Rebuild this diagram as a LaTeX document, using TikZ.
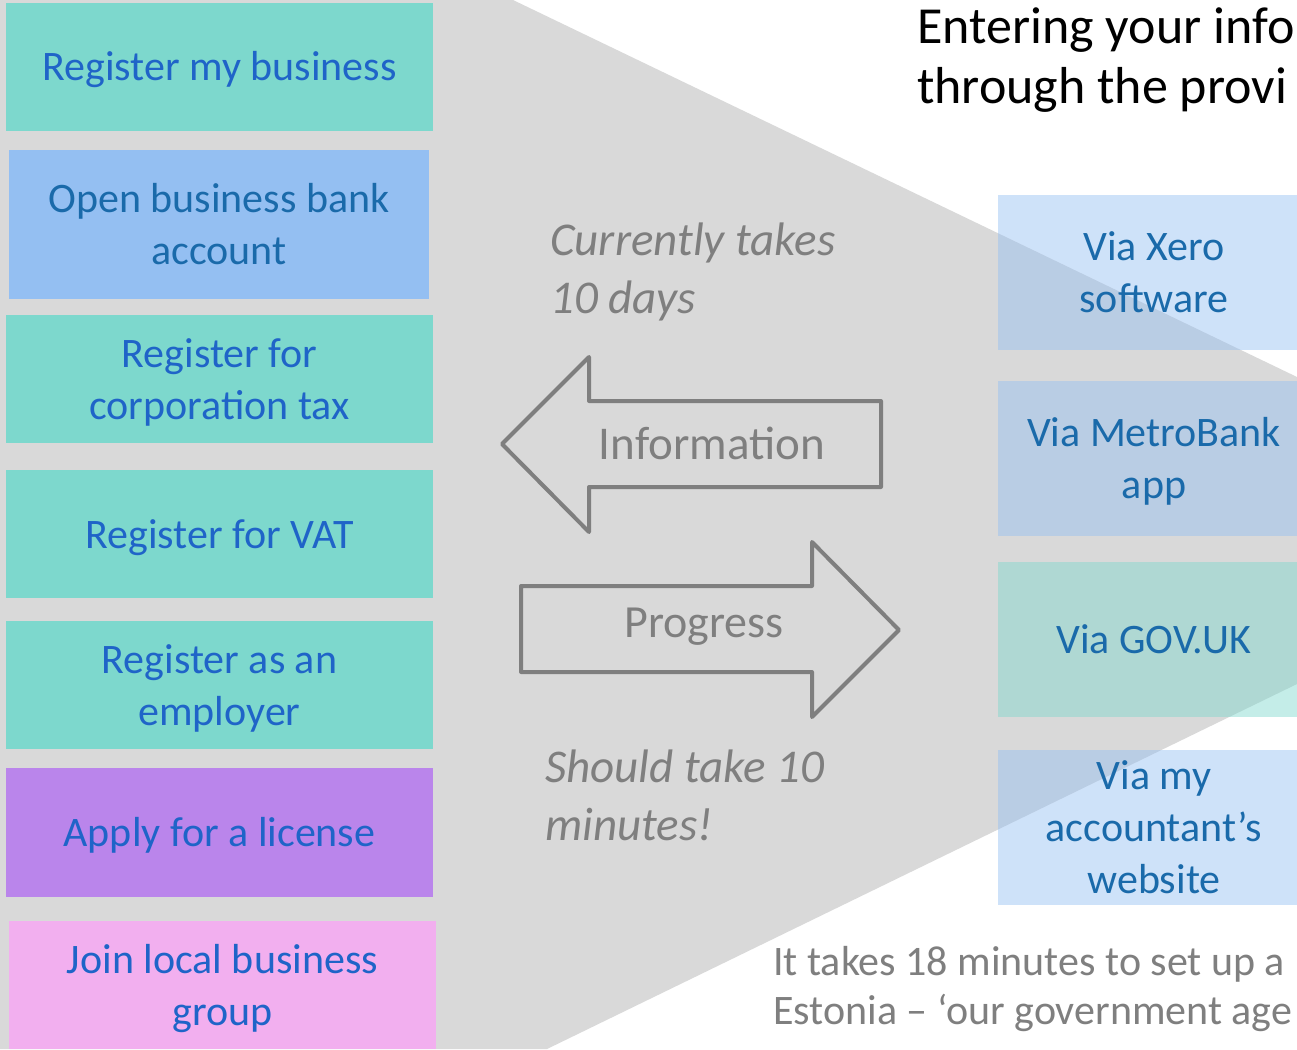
\documentclass[tikz,border=0pt]{standalone}
\usepackage{fontspec}
\setmainfont{Carlito}
\definecolor{greybg}{HTML}{D9D9D9}
\definecolor{tealbox}{HTML}{7DD8CD}
\definecolor{bluebox}{HTML}{94BFF2}
\definecolor{purplebox}{HTML}{BA85EB}
\definecolor{pinkbox}{HTML}{F2AFEF}
\definecolor{boxtext}{HTML}{1F64C8}
\definecolor{viatext}{HTML}{1A6AAA}
\definecolor{greytext}{HTML}{7F7F7F}
\newcommand{\boxtop}{\rule{0pt}{38pt}}

\begin{document}
\begin{tikzpicture}[x=1pt,y=-1pt]
  \tikzstyle{boxlines}=[execute at end node={\rule[-10pt]{0pt}{10pt}}]
  \tikzstyle{stepbox}=[rectangle,inner sep=0pt,minimum width=427,minimum height=128,align=center,text=boxtext,font=\fontsize{42}{52}\selectfont,boxlines]
  \tikzstyle{viabox}=[rectangle,inner sep=0pt,minimum width=312,minimum height=155,align=center,fill opacity=0.45,text opacity=1,text=viatext,font=\fontsize{42}{52}\selectfont,boxlines]
  \tikzstyle{note}=[inner sep=0pt,anchor=base west,align=left,text=greytext]
  \tikzstyle{arrowline}=[draw=greytext,line width=4pt,line join=round]

  \useasboundingbox (0,0) rectangle (1297,1049);
  \clip (0,0) rectangle (1297,1049);
  \fill[white] (0,0) rectangle (1297,1049);

  % funnel
  \fill[greybg] (0,0) -- (513,0) -- (1297,377) -- (1297,684) -- (547,1049) -- (0,1049) -- cycle;

  % steps
  \node[stepbox,fill=tealbox] (S_1) at (219.5,67) {\boxtop Register my business};
  \node[stepbox,fill=bluebox,minimum width=420,minimum height=149,text=viatext] (S_2) at (219,224.5) {\boxtop Open business bank\\account};
  \node[stepbox,fill=tealbox] (S_3) at (219.5,379) {\boxtop Register for\\corporation tax};
  \node[stepbox,fill=tealbox] (S_4) at (219.5,534) {\boxtop Register for VAT};
  \node[stepbox,fill=tealbox] (S_5) at (219.5,685) {\boxtop Register as an\\employer};
  \node[stepbox,fill=purplebox,minimum height=129] (S_6) at (219.5,832.5) {\boxtop Apply for a license};
  \node[stepbox,fill=pinkbox] (S_7) at (222.5,985) {\boxtop Join local business\\group};

  % arrows
  \draw[arrowline] (502,444) -- (589,357) -- (589,401) -- (881,401) -- (881,487) -- (589,487) -- (589,532) -- cycle;
  \draw[arrowline] (521,586) -- (812,586) -- (812,542) -- (899,630) -- (812,717) -- (812,672) -- (521,672) -- cycle;
  \node[text=greytext,font=\fontsize{47}{56}\selectfont,anchor=base,inner sep=0pt] (info) at (712,459) {Information};
  \node[text=greytext,font=\fontsize{46}{56}\selectfont,anchor=base,inner sep=0pt] (progress) at (704,637) {Progress};

  % via
  \node[viabox,fill=bluebox] (V_1) at (1154,272) {\boxtop Via Xero\\software};
  \node[viabox,fill=bluebox] (V_2) at (1154,458.5) {\boxtop Via MetroBank\\app};
  \node[viabox,fill=tealbox] (V_3) at (1154,639.5) {\boxtop Via GOV.UK};
  \node[viabox,fill=bluebox] (V_4) at (1154,827) {\boxtop Via my\\accountant’s\\website};

  % texts (base = last line)
  \node[note,text=black,font=\fontsize{52}{60}\selectfont] (title) at (917,103) {Entering your info\\through the provi};
  \node[note,font=\itshape\fontsize{47}{58}\selectfont] (now) at (550,313) {Currently takes\\10 days};
  \node[note,font=\itshape\fontsize{47}{58}\selectfont] (goal) at (545,840) {Should take 10\\minutes!};
  \node[note,font=\fontsize{42}{49}\selectfont] (estonia) at (773,1024) {It takes 18 minutes to set up a\\Estonia – ‘our government age};
\end{tikzpicture}
\end{document}
